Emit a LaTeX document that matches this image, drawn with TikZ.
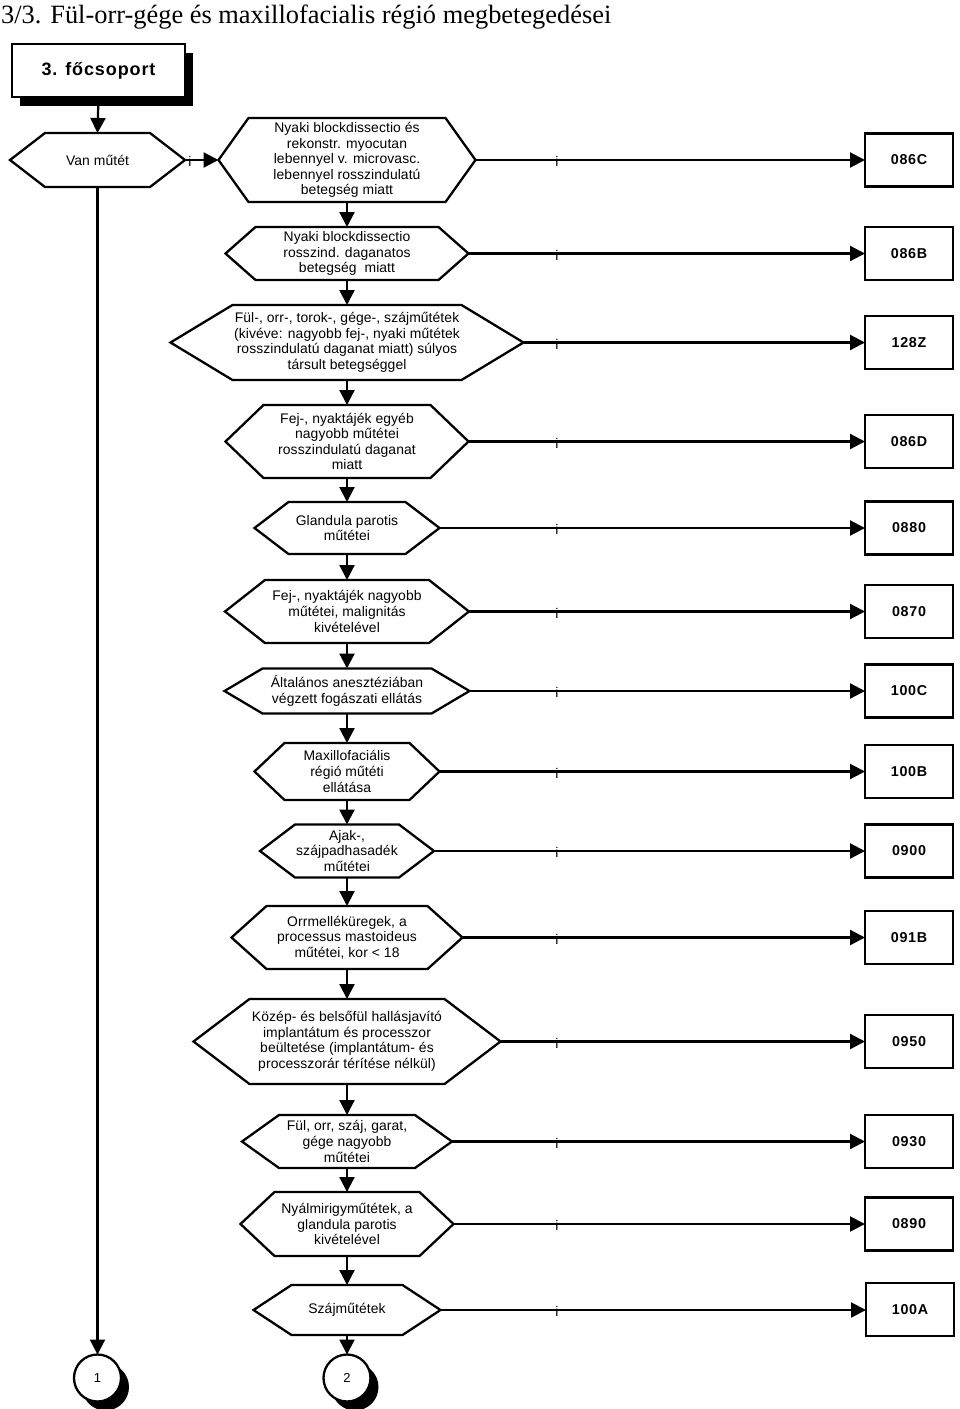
\documentclass[tikz,border=0pt]{standalone}
\usepackage{fontspec}
\setmainfont{Liberation Sans}
\newfontfamily\titlef{Liberation Serif}
\newfontfamily\hexf[LetterSpace=0.6]{Liberation Sans}
\newfontfamily\codef[LetterSpace=5]{Liberation Sans}
\usetikzlibrary{arrows.meta,shadows}
\tikzset{
  hexbox/.style={inner sep=0pt, outer sep=0pt, align=center, font=\hexf\fontsize{13.9}{15.6}\selectfont},
  hexline/.style={line width=2.3pt, line join=miter},
  codebox/.style={draw, line width=2.3pt, minimum width=88pt, minimum height=53pt, inner sep=0pt, outer sep=0pt, font=\codef\bfseries\fontsize{14.3}{16}\selectfont},
  conn/.style={line width=2.2pt, -{Triangle[length=15pt,width=15pt]}},
  ilab/.style={inner sep=0pt, yshift=-1.5pt, font=\hexf\fontsize{14}{15.5}\selectfont},
  blackshadow/.style={drop shadow={shadow xshift=8pt, shadow yshift=-9pt, opacity=1, fill=black}},
  endcircle/.style={circle, draw, line width=2.3pt, fill=white, minimum size=47pt, inner sep=0pt, outer sep=0pt, font=\hexf\fontsize{13}{14}\selectfont, blackshadow},
}
\newcommand\HexN[7]{%
  \node[hexbox, minimum width={2*#4}, minimum height={2*#5}] (#1) at (#2,#3) {#7};
  \draw[hexline] ([xshift=#6]#1.north west) -- ([xshift=-#6]#1.north east) -- (#1.east) -- ([xshift=-#6]#1.south east) -- ([xshift=#6]#1.south west) -- (#1.west) -- cycle;}
\begin{document}
\begin{tikzpicture}[x=1pt,y=-1pt]
\useasboundingbox (0,0) rectangle (960,1409);
\node[anchor=base west, inner sep=0pt, font=\titlef\fontsize{26.4}{30}\selectfont] (title) at (1,23) {3/3. Fül-orr-gége és maxillofacialis régió megbetegedései};
\node[draw, line width=2.3pt, fill=white, minimum width=173pt, minimum height=53pt, inner sep=0pt, outer sep=0pt, blackshadow, font=\codef\bfseries\fontsize{18}{20}\selectfont] (hdr) at (98.5,70.5) {3. főcsoport};

\HexN{V}{97.5}{160}{87.5}{27}{35}{Van műtét}
\HexN{H1}{347}{160}{128.5}{42}{30}{Nyaki blockdissectio és\\rekonstr. myocutan\\lebennyel v. microvasc.\\lebennyel rosszindulatú\\betegség miatt}
\HexN{H2}{347}{253.5}{121.5}{26.5}{30}{Nyaki blockdissectio\\rosszind. daganatos\\betegség~ miatt}
\HexN{H3}{347}{342.5}{176.5}{37.5}{62}{Fül-, orr-, torok-, gége-, szájműtétek\\(kivéve: nagyobb fej-, nyaki műtétek\\rosszindulatú daganat miatt) súlyos\\társult betegséggel}
\HexN{H4}{347}{441.5}{121.5}{36.5}{38}{Fej-, nyaktájék egyéb\\nagyobb műtétei\\rosszindulatú daganat\\miatt}
\HexN{H5}{347}{528}{92.5}{26}{34}{Glandula parotis\\műtétei}
\HexN{H6}{347}{611.5}{122}{31.5}{40}{Fej-, nyaktájék nagyobb\\műtétei, malignitás\\kivételével}
\HexN{H7}{347}{691}{122.5}{22.5}{38}{Általános anesztéziában\\végzett fogászati ellátás}
\HexN{H8}{347}{771.5}{92.5}{28.5}{30}{Maxillofaciális\\régió műtéti\\ellátása}
\HexN{H9}{347}{851}{87}{26.5}{35}{Ajak-,\\szájpadhasadék\\műtétei}
\HexN{H10}{347}{937.5}{115.5}{31.5}{35}{Orrmelléküregek, a\\processus mastoideus\\műtétei, kor < 18}
\HexN{H11}{347}{1041.5}{153.5}{42.5}{56}{Közép- és belsőfül hallásjavító\\implantátum és processzor\\beültetése (implantátum- és\\processzorár térítése nélkül)}
\HexN{H12}{347}{1141.5}{105}{26.5}{37}{Fül, orr, száj, garat,\\gége nagyobb\\műtétei}
\HexN{H13}{347}{1224}{106.5}{32}{34}{Nyálmirigyműtétek, a\\glandula parotis\\kivételével}
\HexN{H14}{347}{1310}{93.5}{25}{38}{Szájműtétek}

\node[codebox] (B1) at (909,160) {086C};
\node[codebox] (B2) at (909,253.5) {086B};
\node[codebox] (B3) at (909,342.5) {128Z};
\node[codebox] (B4) at (909,441.5) {086D};
\node[codebox] (B5) at (909,528) {0880};
\node[codebox] (B6) at (909,611.5) {0870};
\node[codebox] (B7) at (909,691) {100C};
\node[codebox] (B8) at (909,771.5) {100B};
\node[codebox] (B9) at (909,851) {0900};
\node[codebox] (B10) at (909,937.5) {091B};
\node[codebox] (B11) at (909,1041.5) {0950};
\node[codebox] (B12) at (909,1141.5) {0930};
\node[codebox] (B13) at (909,1224) {0890};
\node[codebox] (B14) at (910,1309.5) {100A};

\node[endcircle] (C1) at (97.5,1378) {1};
\node[endcircle] (C2) at (347,1378) {2};

\coordinate (icol) at (557,0);
% connectors
\draw[conn] (hdr.south) -- (V.north);
\draw[conn] (V.east) -- (H1.west);
\node[ilab] (i0) at (190,160) {i};
\draw[conn] (V.south) -- (C1.north);
\foreach \a/\b in {H1/H2,H2/H3,H3/H4,H4/H5,H5/H6,H6/H7,H7/H8,H8/H9,H9/H10,H10/H11,H11/H12,H12/H13,H13/H14}
  \draw[conn] (\a.south) -- (\b.north);
\draw[conn] (H14.south) -- (C2.north);
\foreach \k in {1,...,14} {
  \draw[conn] (H\k.east) -- (H\k.east -| B\k.west);
  \node[ilab] (i\k) at (H\k.east -| icol) {i};
}
\end{tikzpicture}
\end{document}
